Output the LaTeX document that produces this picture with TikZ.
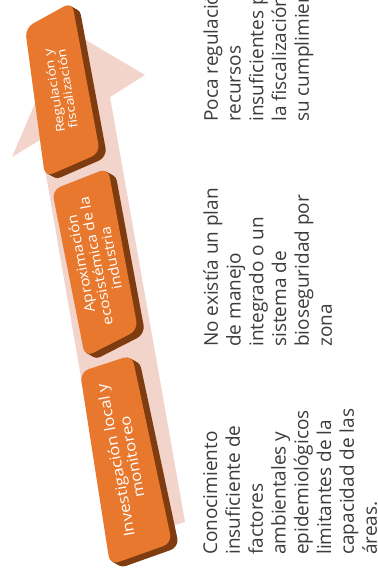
\documentclass[tikz,border=0pt]{standalone}
\usepackage{fontspec}
\setmainfont{Open Sans}
\definecolor{arrowpink}{HTML}{F3D4CB}
\definecolor{boxface}{HTML}{E8782E}
\definecolor{boxside}{HTML}{7E3C10}
\definecolor{coltextgray}{HTML}{3C3C3C}
\tikzset{
  coltext/.style={rotate=90, anchor=north west, align=left, inner sep=0pt,
    text=coltextgray, font=\fontsize{19}{22.8}\selectfont},
  boxlabel/.style={align=center, inner sep=0pt, text=white},
}
\newcommand{\stepbox}[4]{%
  \foreach \k in {8,...,1}{%
    \pgfmathsetmacro{\dx}{\k*0.9}\pgfmathsetmacro{\dy}{\k*0.5}%
    \fill[boxside, rounded corners=9pt, shift={(\dx,\dy)}] #1 -- #2 -- #3 -- #4 -- cycle;
  }%
  \fill[boxface, rounded corners=9pt] #1 -- #2 -- #3 -- #4 -- cycle;
}
\begin{document}
\begin{tikzpicture}[x=1pt,y=-1pt]
\useasboundingbox (0,0) rectangle (377,580);
\clip (0,0) rectangle (377,580);
\fill[white] (0,0) rectangle (377,580);
% upward arrow
\fill[arrowpink] (185,522) -- (110,97) -- (145,75) -- (67,29) -- (12,157) -- (40,140) -- (110,545) -- cycle;
% step boxes
\stepbox{(80,372)}{(132,355)}{(172,543)}{(110,565)}
\stepbox{(52,190)}{(108,168)}{(138,330)}{(85,357)}
\stepbox{(25,28)}{(72,2)}{(100,153)}{(45,177)}
% labels
\node[boxlabel, rotate=100.4, xscale=1.12, font=\fontsize{15}{16.5}\selectfont] (l1) at (123.5,458.7) {Investigación local y\\monitoreo};
\node[boxlabel, rotate=100.8, xscale=1.1, font=\fontsize{14}{15.4}\selectfont] (l2) at (95.7,261.2) {Aproximación\\ecosistémica de la\\industria};
\node[boxlabel, rotate=99, xscale=1.2, font=\fontsize{12}{13.2}\selectfont] (l3) at (60.5,90) {Regulación y\\fiscalización};
% text columns
\node[coltext] (c1) at (203,555) {Conocimiento\\insuficiente de\\factores\\ambientales y\\epidemiológicos\\limitantes de la\\capacidad de las\\áreas.};
\node[coltext] (c2) at (203,347) {No existía un plan\\de manejo\\integrado o un\\sistema de\\bioseguridad por\\zona};
\node[coltext] (c3) at (203,122) {Poca regulación,\\recursos\\insuficientes para\\la fiscalización y\\su cumplimiento};
\end{tikzpicture}
\end{document}
